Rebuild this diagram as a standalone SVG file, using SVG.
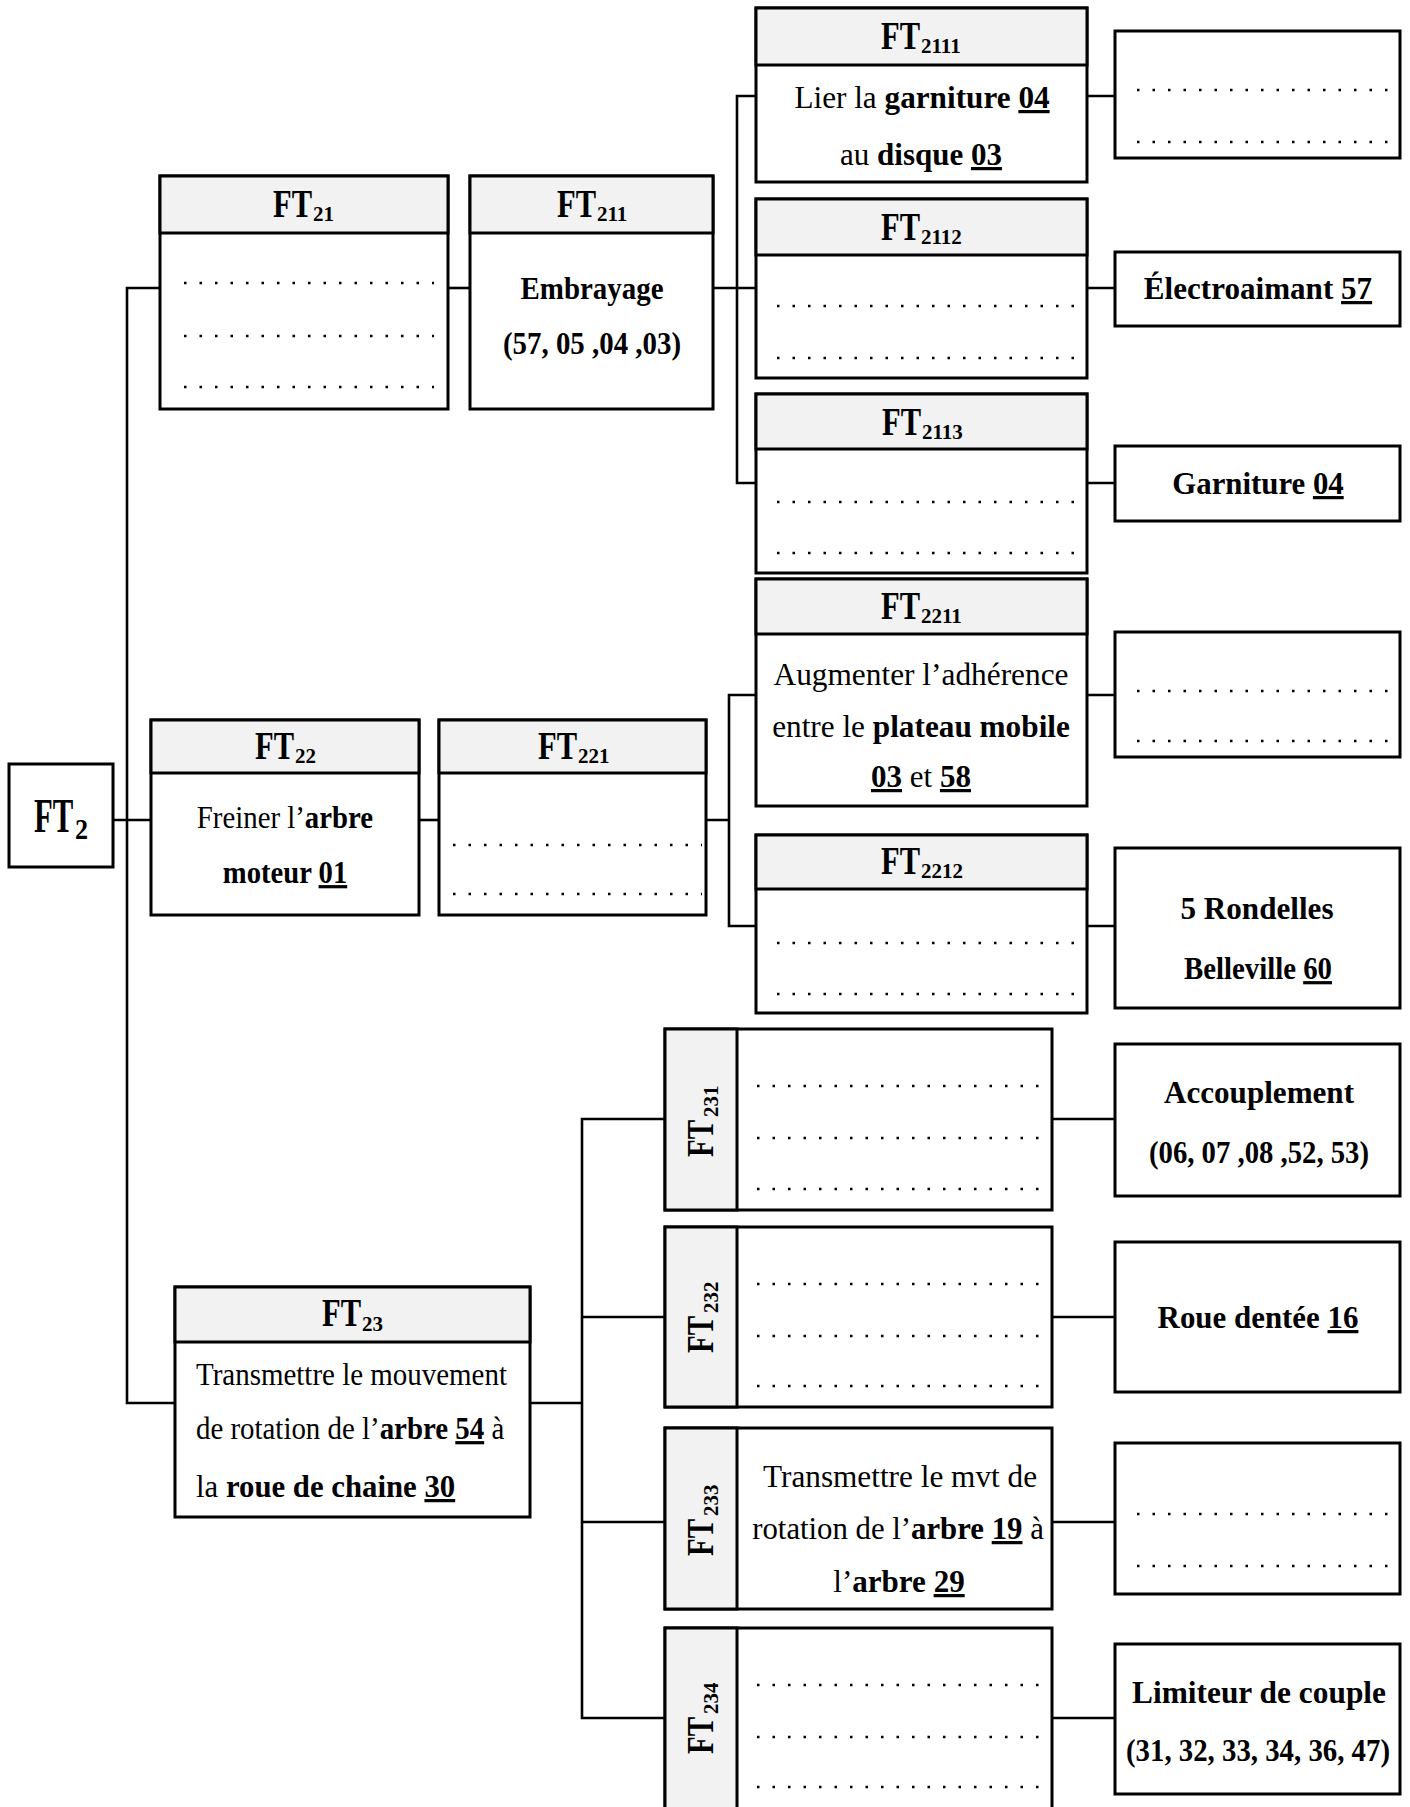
<svg xmlns="http://www.w3.org/2000/svg" width="1410" height="1807" viewBox="0 0 1410 1807">
<style>
.box{fill:#fff;stroke:#000;stroke-width:3}
.hdr{fill:#f2f2f2;stroke:#000;stroke-width:3}
.conn{fill:none;stroke:#000;stroke-width:2.6}
.dots{stroke:#000;stroke-width:2.5;stroke-dasharray:2.5 13}
text{font-family:"Liberation Serif","Times New Roman",serif;fill:#000}
.ht{font-size:39px;font-weight:bold}
.sub{font-size:21px;font-weight:bold}
.t{font-size:32px}
.b{font-weight:bold}
.u{text-decoration:underline}
</style>
<g id="connectors">
<path class="conn" d="M113 820 H151"/>
<path class="conn" d="M160 288 H127 V1403 H175"/>
<path class="conn" d="M448 288 H470"/>
<path class="conn" d="M713 288 H756 M756 96 H737 V483 H756"/>
<path class="conn" d="M1087 96 H1115 M1087 288 H1115 M1087 483 H1115"/>
<path class="conn" d="M419 820 H439"/>
<path class="conn" d="M706 820 H729 M756 695 H729 V926 H756"/>
<path class="conn" d="M1087 695 H1115 M1087 926 H1115"/>
<path class="conn" d="M530 1403 H582 M665 1119 H582 V1718 H665 M582 1317 H665 M582 1522 H665"/>
<path class="conn" d="M1052 1119 H1115 M1052 1317 H1115 M1052 1522 H1115 M1052 1718 H1115"/>
</g>
<g id="FT2">
<rect class="box" x="9" y="764" width="104" height="103"/>
<text transform="translate(34 832) scale(0.64 1)" font-size="48" font-weight="bold">FT</text>
<text transform="translate(75 839) scale(0.87 1)" font-size="30" font-weight="bold">2</text>
</g>
<g id="FT21">
<rect class="box" x="160" y="176" width="288" height="233"/>
<rect class="hdr" x="160" y="176" width="288" height="57"/>
<text class="ht" transform="translate(273 217) scale(0.783 1)">FT</text>
<text class="sub" x="313" y="221">21</text>
<path class="dots" d="M184 283 H434 M184 336 H434 M184 387 H434"/>
</g>
<g id="FT211">
<rect class="box" x="470" y="176" width="243" height="233"/>
<rect class="hdr" x="470" y="176" width="243" height="57"/>
<text class="ht" transform="translate(557 217) scale(0.783 1)">FT</text>
<text class="sub" x="597" y="221">211</text>
<text class="t b" x="592" y="299" text-anchor="middle" textLength="143" lengthAdjust="spacingAndGlyphs">Embrayage</text>
<text class="t b" x="592" y="354" text-anchor="middle" textLength="178" lengthAdjust="spacingAndGlyphs">(57, 05 ,04 ,03)</text>
</g>
<g id="FT2111">
<rect class="box" x="756" y="8" width="331" height="174"/>
<rect class="hdr" x="756" y="8" width="331" height="57"/>
<text class="ht" transform="translate(881 49) scale(0.783 1)">FT</text>
<text class="sub" x="921" y="53">2111</text>
<text class="t" text-anchor="middle" transform="translate(922 108) scale(0.976 1)">Lier la <tspan class="b">garniture </tspan><tspan class="b u">04</tspan></text>
<text class="t" text-anchor="middle" transform="translate(921 165) scale(0.969 1)">au <tspan class="b">disque </tspan><tspan class="b u">03</tspan></text>
</g>
<g id="R2111">
<rect class="box" x="1115" y="31" width="285" height="127"/>
<path class="dots" d="M1137 90 H1389 M1137 142 H1389"/>
</g>
<g id="FT2112">
<rect class="box" x="756" y="199" width="331" height="179"/>
<rect class="hdr" x="756" y="199" width="331" height="56"/>
<text class="ht" transform="translate(881 240) scale(0.783 1)">FT</text>
<text class="sub" x="921" y="244">2112</text>
<path class="dots" d="M777 306 H1076 M777 358 H1076"/>
</g>
<g id="R2112">
<rect class="box" x="1115" y="252" width="285" height="74"/>
<text class="t b" text-anchor="middle" transform="translate(1258 299) scale(0.972 1)">Électroaimant <tspan class="u">57</tspan></text>
</g>
<g id="FT2113">
<rect class="box" x="756" y="394" width="331" height="179"/>
<rect class="hdr" x="756" y="394" width="331" height="55"/>
<text class="ht" transform="translate(882 435) scale(0.783 1)">FT</text>
<text class="sub" x="922" y="439">2113</text>
<path class="dots" d="M777 502 H1076 M777 553 H1076"/>
</g>
<g id="R2113">
<rect class="box" x="1115" y="446" width="285" height="75"/>
<text class="t b" text-anchor="middle" transform="translate(1258 494) scale(0.963 1)">Garniture <tspan class="u">04</tspan></text>
</g>
<g id="FT22">
<rect class="box" x="151" y="720" width="268" height="195"/>
<rect class="hdr" x="151" y="720" width="268" height="53"/>
<text class="ht" transform="translate(255 759) scale(0.783 1)">FT</text>
<text class="sub" x="295" y="763">22</text>
<text class="t" text-anchor="middle" transform="translate(285 828) scale(0.901 1)">Freiner l’<tspan class="b">arbre</tspan></text>
<text class="t b" text-anchor="middle" transform="translate(285 883) scale(0.896 1)">moteur <tspan class="u">01</tspan></text>
</g>
<g id="FT221">
<rect class="box" x="439" y="720" width="267" height="195"/>
<rect class="hdr" x="439" y="720" width="267" height="53"/>
<text class="ht" transform="translate(538 759) scale(0.783 1)">FT</text>
<text class="sub" x="578" y="763">221</text>
<path class="dots" d="M453 845 H702 M453 894 H702"/>
</g>
<g id="FT2211">
<rect class="box" x="756" y="579" width="331" height="227"/>
<rect class="hdr" x="756" y="579" width="331" height="55"/>
<text class="ht" transform="translate(881 619) scale(0.783 1)">FT</text>
<text class="sub" x="921" y="623">2211</text>
<text class="t" x="921" y="685" text-anchor="middle" textLength="295" lengthAdjust="spacingAndGlyphs">Augmenter l’adhérence</text>
<text class="t" text-anchor="middle" transform="translate(921 737) scale(0.977 1)">entre le <tspan class="b">plateau mobile</tspan></text>
<text class="t" text-anchor="middle" transform="translate(921 787) scale(0.97 1)"><tspan class="b u">03</tspan> et <tspan class="b u">58</tspan></text>
</g>
<g id="R2211">
<rect class="box" x="1115" y="632" width="285" height="125"/>
<path class="dots" d="M1137 691 H1389 M1137 741 H1389"/>
</g>
<g id="FT2212">
<rect class="box" x="756" y="835" width="331" height="178"/>
<rect class="hdr" x="756" y="835" width="331" height="54"/>
<text class="ht" transform="translate(881 874) scale(0.783 1)">FT</text>
<text class="sub" x="921" y="878">2212</text>
<path class="dots" d="M777 943 H1076 M777 994 H1076"/>
</g>
<g id="R2212">
<rect class="box" x="1115" y="848" width="285" height="160"/>
<text class="t b" x="1257" y="919" text-anchor="middle" textLength="153" lengthAdjust="spacingAndGlyphs">5 Rondelles</text>
<text class="t b" text-anchor="middle" transform="translate(1258 979) scale(0.9 1)">Belleville <tspan class="u">60</tspan></text>
</g>
<g id="FT23">
<rect class="box" x="175" y="1287" width="355" height="230"/>
<rect class="hdr" x="175" y="1287" width="355" height="55"/>
<text class="ht" transform="translate(322 1326) scale(0.783 1)">FT</text>
<text class="sub" x="362" y="1331">23</text>
<text class="t" x="196" y="1385" textLength="311" lengthAdjust="spacingAndGlyphs">Transmettre le mouvement</text>
<text class="t" transform="translate(196 1439) scale(0.903 1)">de rotation de l’<tspan class="b">arbre </tspan><tspan class="b u">54</tspan> à</text>
<text class="t" transform="translate(196 1497) scale(0.962 1)">la <tspan class="b">roue de chaine </tspan><tspan class="b u">30</tspan></text>
</g>
<g id="FT231">
<rect class="box" x="665" y="1029" width="387" height="181"/>
<rect class="hdr" x="665" y="1029" width="72" height="181"/>
<text class="ht" transform="translate(713 1157) rotate(-90) scale(0.743 1)">FT</text>
<text class="sub" transform="translate(718 1117) rotate(-90)">231</text>
<path class="dots" d="M757 1086 H1045 M757 1138 H1045 M757 1189 H1045"/>
</g>
<g id="R231">
<rect class="box" x="1115" y="1044" width="285" height="152"/>
<text class="t b" x="1259" y="1103" text-anchor="middle" textLength="190" lengthAdjust="spacingAndGlyphs">Accouplement</text>
<text class="t b" x="1259" y="1163" text-anchor="middle" font-size="29" textLength="220" lengthAdjust="spacingAndGlyphs">(06, 07 ,08 ,52, 53)</text>
</g>
<g id="FT232">
<rect class="box" x="665" y="1227" width="387" height="180"/>
<rect class="hdr" x="665" y="1227" width="72" height="180"/>
<text class="ht" transform="translate(713 1353) rotate(-90) scale(0.743 1)">FT</text>
<text class="sub" transform="translate(718 1313) rotate(-90)">232</text>
<path class="dots" d="M757 1284 H1045 M757 1336 H1045 M757 1386 H1045"/>
</g>
<g id="R232">
<rect class="box" x="1115" y="1242" width="285" height="150"/>
<text class="t b" text-anchor="middle" transform="translate(1258 1328) scale(0.966 1)">Roue dentée <tspan class="u">16</tspan></text>
</g>
<g id="FT233">
<rect class="box" x="665" y="1428" width="387" height="181"/>
<rect class="hdr" x="665" y="1428" width="72" height="181"/>
<text class="ht" transform="translate(713 1556) rotate(-90) scale(0.743 1)">FT</text>
<text class="sub" transform="translate(718 1516) rotate(-90)">233</text>
<text class="t" x="900" y="1487" text-anchor="middle" textLength="274" lengthAdjust="spacingAndGlyphs">Transmettre le mvt de</text>
<text class="t" text-anchor="middle" transform="translate(898 1539) scale(0.962 1)">rotation de l’<tspan class="b">arbre </tspan><tspan class="b u">19</tspan> à</text>
<text class="t" text-anchor="middle" transform="translate(899 1592) scale(0.971 1)">l’<tspan class="b">arbre </tspan><tspan class="b u">29</tspan></text>
</g>
<g id="R233">
<rect class="box" x="1115" y="1443" width="285" height="151"/>
<path class="dots" d="M1137 1514 H1389 M1137 1566 H1389"/>
</g>
<g id="FT234">
<rect class="box" x="665" y="1628" width="387" height="200"/>
<rect class="hdr" x="665" y="1628" width="72" height="200"/>
<text class="ht" transform="translate(713 1754) rotate(-90) scale(0.743 1)">FT</text>
<text class="sub" transform="translate(718 1714) rotate(-90)">234</text>
<path class="dots" d="M757 1685 H1045 M757 1737 H1045 M757 1787 H1045"/>
</g>
<g id="R234">
<rect class="box" x="1115" y="1644" width="285" height="150"/>
<text class="t b" x="1259" y="1703" text-anchor="middle" textLength="254" lengthAdjust="spacingAndGlyphs">Limiteur de couple</text>
<text class="t b" text-anchor="middle" font-size="28.5" transform="translate(1258 1761) scale(0.9 1)">(31, 32, 33, 34, 36, 47)</text>
</g>
</svg>
